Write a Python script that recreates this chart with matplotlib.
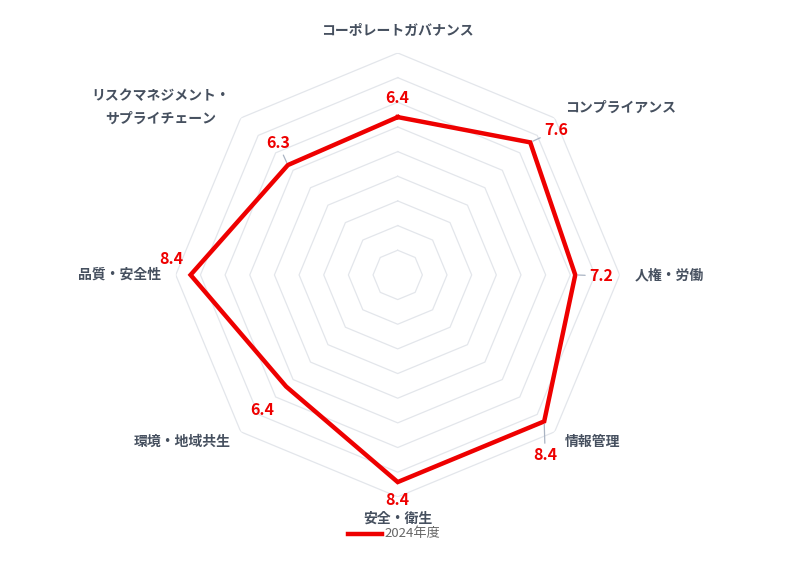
import numpy as np
import matplotlib.pyplot as plt

plt.rcParams['font.family'] = ['Noto Sans CJK JP', 'DejaVu Sans']

categories = ["コーポレートガバナンス", "コンプライアンス", "人権・労働", "情報管理",
              "安全・衛生", "環境・地域共生", "品質・安全性",
              "リスクマネジメント・\nサプライチェーン"]
values_2024 = [6.4, 7.6, 7.2, 8.4, 8.4, 6.4, 8.4, 6.3]
series_name = "2024年度"
r_max = 9

n = len(categories)
angles = np.arange(n) * 2 * np.pi / n

fig = plt.figure(figsize=(8.1, 5.68), dpi=100)
ax = fig.add_axes([0.217, 0.125, 0.548, 0.782], projection='polar')
ax.set_theta_offset(np.pi / 2)
ax.set_theta_direction(-1)
ax.set_ylim(0, r_max)
ax.axis('off')

# octagon grid rings
closed = np.append(angles, angles[0])
for ring in range(1, r_max + 1):
    ax.plot(closed, [ring] * (n + 1), color="#e3e6eb", lw=0.9, zorder=1)

# data line
ax.plot(closed, values_2024 + values_2024[:1], color="#ee0000", lw=3.2,
        solid_joinstyle='miter', zorder=3, clip_on=False)

# category labels
label_r = 9.6
for ang, name in zip(angles, categories):
    s = np.sin(ang)
    c = np.cos(ang)
    ha = 'center' if abs(s) < 0.1 else ('left' if s > 0 else 'right')
    va = 'center'
    if abs(s) < 0.1:
        va = 'bottom' if c > 0 else 'top'
    ax.text(ang, label_r, name, ha=ha, va=va, fontsize=10, fontweight='bold',
            color="#46505f", multialignment='center', linespacing=1.8)

# value labels (offsets in pixels, some with leader lines)
offsets = [(0, 19), (26, 12), (26, -1), (1, -34), (0, -18), (-24, -23), (-19, 16), (-10, 22)]
leaders = [False, True, True, True, False, False, False, True]
for ang, v, off, lead in zip(angles, values_2024, offsets, leaders):
    props = None
    if lead:
        props = dict(arrowstyle='-', color="#aab4c3", lw=0.9, shrinkA=1, shrinkB=2)
    ax.annotate(f"{v:.1f}", xy=(ang, v), xytext=off, textcoords='offset pixels',
                ha='center', va='center', fontsize=11.5, fontweight='bold',
                color="#ee0000", arrowprops=props, zorder=4)

# legend
fig.lines.append(plt.Line2D([348 / 810, 382 / 810], [1 - 534 / 568] * 2,
                            transform=fig.transFigure, color="#ee0000", lw=3.2))
fig.text(384 / 810, 1 - 534 / 568, series_name, ha='left', va='center',
         fontsize=9.5, color="#666666")

fig.savefig("out.png", dpi=100)
